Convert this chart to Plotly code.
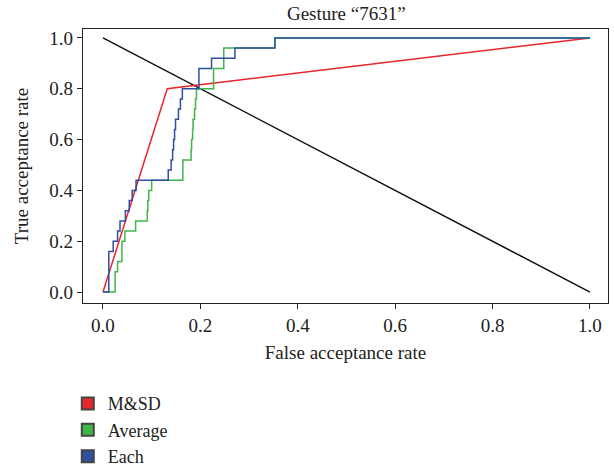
import plotly.graph_objects as go

# Data
msd_far = [0.0, 0.132, 1.0]
msd_tar = [0.0, 0.80, 1.0]

avg_far = [0.0, 0.025, 0.030, 0.039, 0.045, 0.067, 0.091, 0.092, 0.094, 0.100,
           0.164, 0.181, 0.182, 0.184, 0.185, 0.188, 0.190, 0.192, 0.227, 0.248,
           0.343, 0.353, 1.0]
avg_tar = [0.0, 0.08, 0.12, 0.20, 0.24, 0.28, 0.32, 0.36, 0.40, 0.44,
           0.52, 0.56, 0.60, 0.64, 0.68, 0.72, 0.76, 0.80, 0.88, 0.96,
           0.96, 1.0, 1.0]

each_far = [0.0, 0.012, 0.021, 0.030, 0.035, 0.046, 0.054, 0.060, 0.068, 0.134,
            0.140, 0.143, 0.145, 0.147, 0.149, 0.155, 0.159, 0.163, 0.197, 0.223,
            0.271, 0.343, 0.353, 1.0]
each_tar = [0.0, 0.16, 0.20, 0.24, 0.28, 0.32, 0.36, 0.40, 0.44, 0.48,
            0.52, 0.56, 0.60, 0.64, 0.68, 0.72, 0.76, 0.80, 0.88, 0.92,
            0.96, 0.96, 1.0, 1.0]

eer_far = [0.0, 1.0]
eer_tar = [1.0, 0.0]

legend_names = ["M&SD", "Average", "Each"]
colors = ["#e8262b", "#3fb54a", "#2f4fa0"]
tick_vals = [0.0, 0.2, 0.4, 0.6, 0.8, 1.0]

FONT = "Liberation Serif"
FS = 19
LW = 1.5

fig = go.Figure()

fig.add_trace(go.Scatter(x=eer_far, y=eer_tar, mode="lines",
                         line=dict(color="#111111", width=LW), showlegend=False))
fig.add_trace(go.Scatter(x=msd_far, y=msd_tar, mode="lines",
                         line=dict(color=colors[0], width=LW), showlegend=False))
fig.add_trace(go.Scatter(x=avg_far, y=avg_tar, mode="lines", line_shape="hv",
                         line=dict(color=colors[1], width=LW), showlegend=False))
fig.add_trace(go.Scatter(x=each_far, y=each_tar, mode="lines", line_shape="hv",
                         line=dict(color=colors[2], width=LW), showlegend=False))

for name, c in zip(legend_names, colors):
    fig.add_trace(go.Scatter(x=[None], y=[None], mode="markers", name=name,
                             marker=dict(symbol="square", size=8, color=c,
                                         line=dict(color="#444444", width=1))))

axis_common = dict(
    showgrid=False, zeroline=False, showline=True, linecolor="#222222", linewidth=1.3,
    mirror=True, ticks="outside", ticklen=5, tickcolor="#222222", tickwidth=1.2,
    tickvals=tick_vals, tickformat=".1f",
    tickfont=dict(family=FONT, size=FS, color="#222222"),
)

fig.update_layout(
    width=614, height=472,
    margin=dict(l=83, r=6, t=29, b=169, autoexpand=False),
    paper_bgcolor="white", plot_bgcolor="white",
    title=dict(text="Gesture “7631”", x=0.564, xanchor="center", y=0.972, yanchor="middle",
               font=dict(family=FONT, size=FS, color="#222222")),
    xaxis=dict(range=[-0.041, 1.037],
               title=dict(text="False acceptance rate", standoff=10,
                          font=dict(family=FONT, size=FS, color="#222222")),
               **axis_common),
    yaxis=dict(range=[-0.043, 1.035],
               title=dict(text="True acceptance rate", standoff=15,
                          font=dict(family=FONT, size=FS, color="#222222")),
               **axis_common),
    legend=dict(x=-0.029, xanchor="left", y=-0.30, yanchor="top",
                font=dict(family=FONT, size=18, color="#222222"),
                bgcolor="rgba(0,0,0,0)", itemsizing="constant"),
    showlegend=True,
)

fig.write_html("out.html",
               config={"displayModeBar": False},
               post_script="document.body.style.margin='0px';document.body.style.overflow='hidden';")
